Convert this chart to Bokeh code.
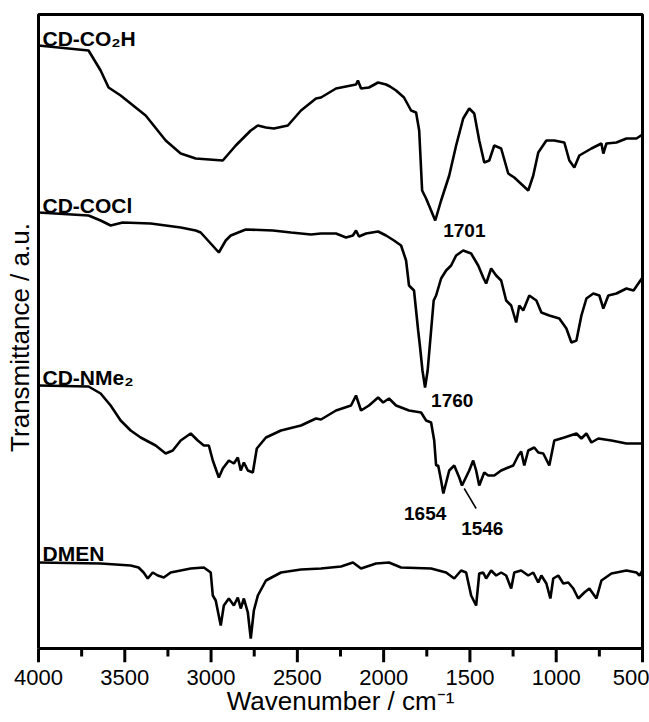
from bokeh.plotting import figure
from bokeh.models import Range1d, FixedTicker
from bokeh.embed import file_html
from bokeh.resources import INLINE

# ---------------- data ----------------
wn_co2h = [4000, 3710, 3640, 3594, 3524, 3379, 3263, 3176, 3089, 2932, 2857, 2770, 2729, 2682,
           2636, 2555, 2479, 2392, 2363, 2276, 2218, 2160, 2149, 2131, 2085, 2032, 1986, 1963,
           1928, 1882, 1841, 1812, 1794, 1777, 1754, 1737, 1701, 1667, 1620, 1580, 1539, 1504,
           1475, 1446, 1417, 1388, 1359, 1319, 1278, 1243, 1162, 1133, 1104, 1057, 1011, 953,
           924, 895, 866, 796, 738, 727, 709, 651, 593, 535, 500]
t_co2h = [6.03, 5.98, 5.78, 5.61, 5.53, 5.33, 5.08, 4.95, 4.90, 4.88, 5.03, 5.18, 5.23, 5.21,
          5.20, 5.23, 5.38, 5.50, 5.51, 5.60, 5.62, 5.64, 5.68, 5.60, 5.61, 5.66, 5.64, 5.62,
          5.58, 5.51, 5.38, 5.36, 5.18, 4.58, 4.50, 4.43, 4.28, 4.48, 4.73, 5.03, 5.30, 5.40,
          5.35, 5.08, 4.86, 4.88, 5.03, 5.00, 4.75, 4.71, 4.58, 4.73, 4.96, 5.08, 5.08, 5.06,
          4.88, 4.81, 4.93, 5.00, 5.05, 4.95, 5.05, 5.06, 5.10, 5.10, 5.14]

wn_cocl = [4000, 3710, 3640, 3582, 3512, 3350, 3176, 3089, 3060, 3002, 2955, 2915, 2886, 2799,
           2642, 2537, 2421, 2363, 2276, 2218, 2178, 2160, 2143, 2102, 2032, 1986, 1940, 1899,
           1870, 1853, 1824, 1800, 1790, 1775, 1760, 1745, 1725, 1710, 1696, 1667, 1638, 1609,
           1580, 1539, 1493, 1452, 1423, 1406, 1377, 1348, 1319, 1290, 1261, 1232, 1214, 1191,
           1156, 1115, 1086, 1040, 982, 941, 912, 883, 854, 825, 785, 750, 727, 698, 651, 593,
           552, 500]
t_cocl = [4.36, 4.33, 4.28, 4.23, 4.26, 4.25, 4.21, 4.18, 4.16, 4.05, 3.96, 4.08, 4.13, 4.19,
          4.18, 4.16, 4.14, 4.15, 4.15, 4.11, 4.13, 4.18, 4.12, 4.15, 4.17, 4.13, 4.08, 4.03,
          3.88, 3.63, 3.58, 3.18, 3.03, 2.78, 2.61, 2.78, 3.18, 3.48, 3.53, 3.70, 3.78, 3.83,
          3.93, 3.98, 3.95, 3.83, 3.71, 3.65, 3.80, 3.73, 3.68, 3.48, 3.43, 3.26, 3.43, 3.38,
          3.53, 3.48, 3.36, 3.33, 3.30, 3.20, 3.06, 3.08, 3.33, 3.50, 3.55, 3.53, 3.40, 3.53,
          3.55, 3.60, 3.58, 3.71]

wn_nme2 = [4000, 3710, 3640, 3582, 3524, 3466, 3408, 3321, 3263, 3222, 3176, 3118, 3077, 3042,
           3013, 2990, 2955, 2932, 2897, 2868, 2845, 2828, 2810, 2787, 2758, 2735, 2682, 2595,
           2479, 2392, 2363, 2276, 2189, 2160, 2131, 2085, 2032, 2003, 1969, 1928, 1853, 1783,
           1754, 1725, 1707, 1696, 1684, 1667, 1654, 1620, 1591, 1562, 1546, 1504, 1481, 1464,
           1446, 1417, 1394, 1359, 1319, 1278, 1249, 1220, 1203, 1185, 1162, 1127, 1104, 1075,
           1040, 1011, 953, 883, 854, 825, 796, 756, 680, 593, 500]
t_nme2 = [2.63, 2.62, 2.55, 2.43, 2.28, 2.18, 2.11, 2.03, 1.95, 1.98, 2.08, 2.15, 2.08, 2.03,
          2.03, 1.88, 1.71, 1.80, 1.88, 1.85, 1.91, 1.78, 1.86, 1.78, 1.76, 2.00, 2.11, 2.18,
          2.23, 2.30, 2.29, 2.38, 2.43, 2.53, 2.38, 2.43, 2.51, 2.46, 2.50, 2.43, 2.38, 2.36,
          2.28, 2.26, 2.08, 1.83, 1.83, 1.68, 1.55, 1.78, 1.83, 1.71, 1.63, 1.78, 1.88, 1.78,
          1.63, 1.76, 1.73, 1.73, 1.78, 1.81, 1.83, 1.93, 1.97, 1.83, 1.98, 2.01, 1.96, 1.95,
          1.83, 2.08, 2.11, 2.15, 2.10, 2.15, 2.06, 2.10, 2.08, 2.05, 2.05]

wn_dmen = [4000, 3640, 3466, 3420, 3391, 3367, 3338, 3309, 3274, 3234, 3118, 3042, 3002, 2990,
           2973, 2944, 2926, 2897, 2868, 2845, 2828, 2810, 2787, 2770, 2752, 2729, 2682, 2595,
           2479, 2363, 2247, 2178, 2131, 2044, 1969, 1899, 1725, 1638, 1591, 1551, 1522, 1493,
           1464, 1446, 1423, 1406, 1377, 1348, 1319, 1290, 1261, 1243, 1203, 1162, 1133, 1104,
           1086, 1057, 1034, 1017, 988, 959, 930, 901, 872, 837, 808, 767, 738, 680, 593, 535,
           517, 500]
t_dmen = [0.86, 0.85, 0.83, 0.81, 0.76, 0.70, 0.76, 0.73, 0.71, 0.76, 0.80, 0.81, 0.76, 0.53,
          0.48, 0.23, 0.43, 0.50, 0.43, 0.51, 0.40, 0.50, 0.36, 0.10, 0.38, 0.53, 0.68, 0.76,
          0.79, 0.80, 0.82, 0.86, 0.80, 0.85, 0.86, 0.81, 0.80, 0.76, 0.70, 0.78, 0.76, 0.53,
          0.43, 0.75, 0.76, 0.70, 0.78, 0.73, 0.76, 0.73, 0.60, 0.76, 0.78, 0.73, 0.76, 0.66,
          0.73, 0.65, 0.50, 0.70, 0.73, 0.65, 0.66, 0.60, 0.50, 0.56, 0.60, 0.50, 0.68, 0.75,
          0.78, 0.76, 0.73, 0.78]

series_names = ["CD-CO\u2082H", "CD-COCl", "CD-NMe\u2082", "DMEN"]
name_x = [3977, 3977, 3977, 3977]
name_y = [6.10, 4.43, 2.71, 0.95]

peak_labels = ["1701", "1760", "1654", "1546"]
peak_x = [1655, 1725, 1882, 1551]
peak_y = [4.18, 2.48, 1.35, 1.20]

leader_x0, leader_y0, leader_x1, leader_y1 = [1533], [1.60], [1464], [1.40]

x_ticks = [4000, 3500, 3000, 2500, 2000, 1500, 1000, 500]
x_minor = [3750, 3250, 2750, 2250, 1750, 1250, 750]

# plotting box (data limits) and pixel sizes of the frame around it
X_HI, X_LO = 4000, 500
Y_LO, Y_HI = 0.0, 6.34
BOX_W, BOX_H = 604, 634          # px
ux = (X_HI - X_LO) / BOX_W       # data units per px
uy = (Y_HI - Y_LO) / BOX_H
PAD = 2                          # px of frame beyond the box
MAJ, MIN_ = 14, 8                # tick lengths in px

p = figure(width=649, height=722, output_backend="svg", toolbar_location=None,
           x_range=Range1d(X_HI + PAD * ux, X_LO - PAD * ux),
           y_range=Range1d(Y_LO - MAJ * uy, Y_HI + PAD * uy),
           min_border_left=36, min_border_right=5, min_border_top=12, min_border_bottom=60)

p.grid.visible = False
p.outline_line_color = None

# tick marks hanging below the box
p.segment(x0=x_ticks, y0=[Y_LO] * len(x_ticks), x1=x_ticks, y1=[Y_LO - MAJ * uy] * len(x_ticks),
          line_color="black", line_width=3)
p.segment(x0=x_minor, y0=[Y_LO] * len(x_minor), x1=x_minor, y1=[Y_LO - MIN_ * uy] * len(x_minor),
          line_color="black", line_width=3)
# box around the spectra
p.line([X_HI, X_HI, X_LO, X_LO, X_HI], [Y_LO, Y_HI, Y_HI, Y_LO, Y_LO],
       line_color="black", line_width=3)

for wn, t in [(wn_co2h, t_co2h), (wn_cocl, t_cocl), (wn_nme2, t_nme2), (wn_dmen, t_dmen)]:
    p.line(wn, t, line_color="black", line_width=2.6)

p.text(x=name_x, y=name_y, text=series_names, text_font_style="bold",
       text_font_size="21px", text_align="left", text_baseline="alphabetic", text_color="black")
p.text(x=peak_x, y=peak_y, text=peak_labels, text_font_style="bold",
       text_font_size="19px", text_align="left", text_baseline="alphabetic", text_color="black")
p.segment(x0=leader_x0, y0=leader_y0, x1=leader_x1, y1=leader_y1, line_color="black", line_width=1.5)

xa = p.xaxis[0]
xa.ticker = FixedTicker(ticks=x_ticks, minor_ticks=x_minor)
xa.axis_line_color = None
xa.major_tick_line_color = None
xa.minor_tick_line_color = None
xa.major_tick_in = 0
xa.major_tick_out = 0
xa.minor_tick_in = 0
xa.minor_tick_out = 0
xa.major_label_text_font_size = "22px"
xa.major_label_text_color = "black"
xa.major_label_standoff = 7
xa.axis_label = "Wavenumber / cm\u207b\u00b9"
xa.axis_label_text_font_size = "26px"
xa.axis_label_text_font_style = "normal"
xa.axis_label_text_color = "black"
xa.axis_label_standoff = -2

ya = p.yaxis[0]
ya.axis_line_color = None
ya.major_tick_line_color = None
ya.minor_tick_line_color = None
ya.major_tick_in = 0
ya.major_tick_out = 0
ya.minor_tick_in = 0
ya.minor_tick_out = 0
ya.major_label_text_font_size = "1px"
ya.major_label_text_alpha = 0
ya.major_label_standoff = 0
ya.axis_label = "Transmittance / a.u."
ya.axis_label_text_font_size = "26px"
ya.axis_label_text_font_style = "normal"
ya.axis_label_text_color = "black"
ya.axis_label_standoff = 2

open("out.html", "w").write(file_html(p, INLINE))
